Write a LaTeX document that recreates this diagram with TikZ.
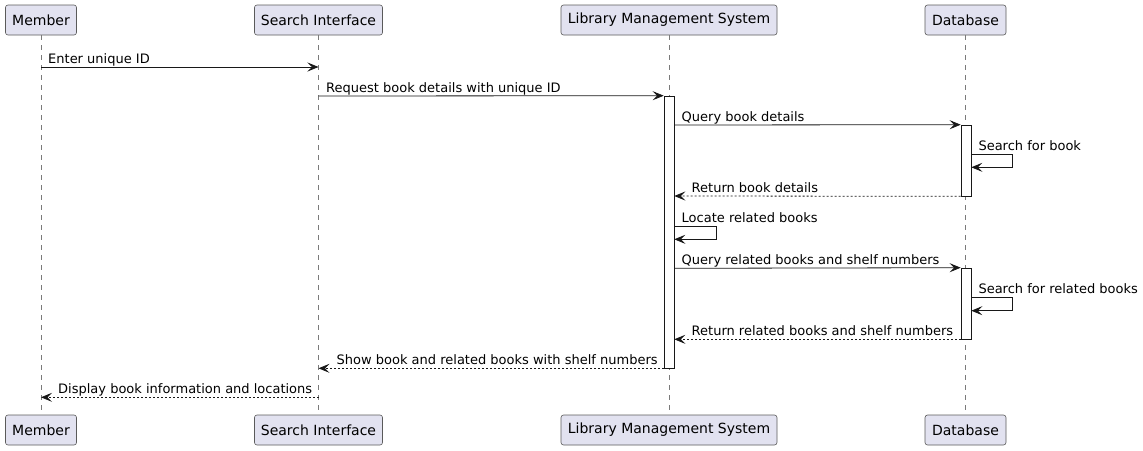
\documentclass[tikz,border=0pt]{standalone}
\usepackage{fontspec}
\setmainfont{DejaVu Sans}
\usetikzlibrary{arrows.meta}
\definecolor{pfill}{HTML}{E2E2F0}
\definecolor{ink}{HTML}{181818}
\definecolor{boxline}{HTML}{5A5A5A}
\definecolor{lifeline}{HTML}{7A7A7A}
\begin{document}
\begin{tikzpicture}[x=1pt,y=-1pt,
  part/.style={draw=boxline, fill=pfill, rounded corners=2.5pt, minimum height=30pt, inner sep=0pt, font=\fontsize{14}{16}\selectfont, line width=0.6pt},
  life/.style={draw=lifeline, dash pattern=on 5pt off 5pt, line width=0.6pt},
  act/.style={draw=ink, fill=white, line width=0.6pt, minimum width=10pt, inner sep=0pt},
  msg/.style={draw=ink, line width=0.8pt, -{Stealth[length=11pt,width=9pt,inset=4.5pt]}},
  ret/.style={msg, dash pattern=on 2pt off 2pt},
  lbl/.style={anchor=base west, inner sep=0pt, font=\fontsize{13}{15}\selectfont}]
\useasboundingbox (0,0) rectangle (1143,450);
% participants
\node[part, minimum width=71pt]  (mT) at (41,20) {Member};
\node[part, minimum width=128pt] (sT) at (318.5,20) {Search Interface};
\node[part, minimum width=216pt] (lT) at (669,20) {Library Management System};
\node[part, minimum width=81pt]  (dT) at (965.5,20) {Database};
\node[part, minimum width=71pt]  (mB) at (41,430) {Member};
\node[part, minimum width=128pt] (sB) at (318.5,430) {Search Interface};
\node[part, minimum width=216pt] (lB) at (669,430) {Library Management System};
\node[part, minimum width=81pt]  (dB) at (965.5,430) {Database};
% lifelines
\draw[life] (mT.south) -- (mB.north);
\draw[life] (sT.south) -- (sB.north);
\draw[life] (lT.south) -- (lB.north);
\draw[life] (dT.south) -- (dB.north);
% activations
\node[act, minimum height=272pt] (aL) at (669,232) {};
\node[act, minimum height=71pt] (aD1) at (966,160.5) {};
\node[act, minimum height=71pt] (aD2) at (966,303.5) {};
% messages
\draw[msg] (mT.south |- 0,67) -- (sT.south |- 0,67);
\node[lbl] (t1) at (48,63) {Enter unique ID};
\draw[msg] (sT.south |- 0,96) -- (aL.north west);
\node[lbl] (t2) at (326,92) {Request book details with unique ID};
\draw[msg] (aL.east |- 0,125) -- (aD1.north west);
\node[lbl] (t3) at (681.5,121) {Query book details};
\draw[msg] (aD1.east |- 0,154.3) -- (1012.7,154.3) -- (1012.7,167.3) -- (aD1.east |- 0,167.3);
\node[lbl] (t4) at (978.3,150.3) {Search for book};
\draw[ret] (aD1.south west) -- (aL.east |- 0,196);
\node[lbl] (t5) at (691.5,192) {Return book details};
\draw[msg] (aL.east |- 0,226.7) -- (716.7,226.7) -- (716.7,239.3) -- (aL.east |- 0,239.3);
\node[lbl] (t6) at (681.5,222.7) {Locate related books};
\draw[msg] (aL.east |- 0,268.3) -- (aD2.north west);
\node[lbl] (t7) at (681.5,264.3) {Query related books and shelf numbers};
\draw[msg] (aD2.east |- 0,297.3) -- (1012.7,297.3) -- (1012.7,310.7) -- (aD2.east |- 0,310.7);
\node[lbl] (t8) at (978.3,293.3) {Search for related books};
\draw[ret] (aD2.south west) -- (aL.east |- 0,339.3);
\node[lbl] (t9) at (691.5,335.3) {Return related books and shelf numbers};
\draw[ret] (aL.south west) -- (sT.south |- 0,368.3);
\node[lbl] (t10) at (336.5,364.3) {Show book and related books with shelf numbers};
\draw[ret] (sT.south |- 0,397.3) -- (mT.south |- 0,397.3);
\node[lbl] (t11) at (58,393.3) {Display book information and locations};
\end{tikzpicture}
\end{document}
